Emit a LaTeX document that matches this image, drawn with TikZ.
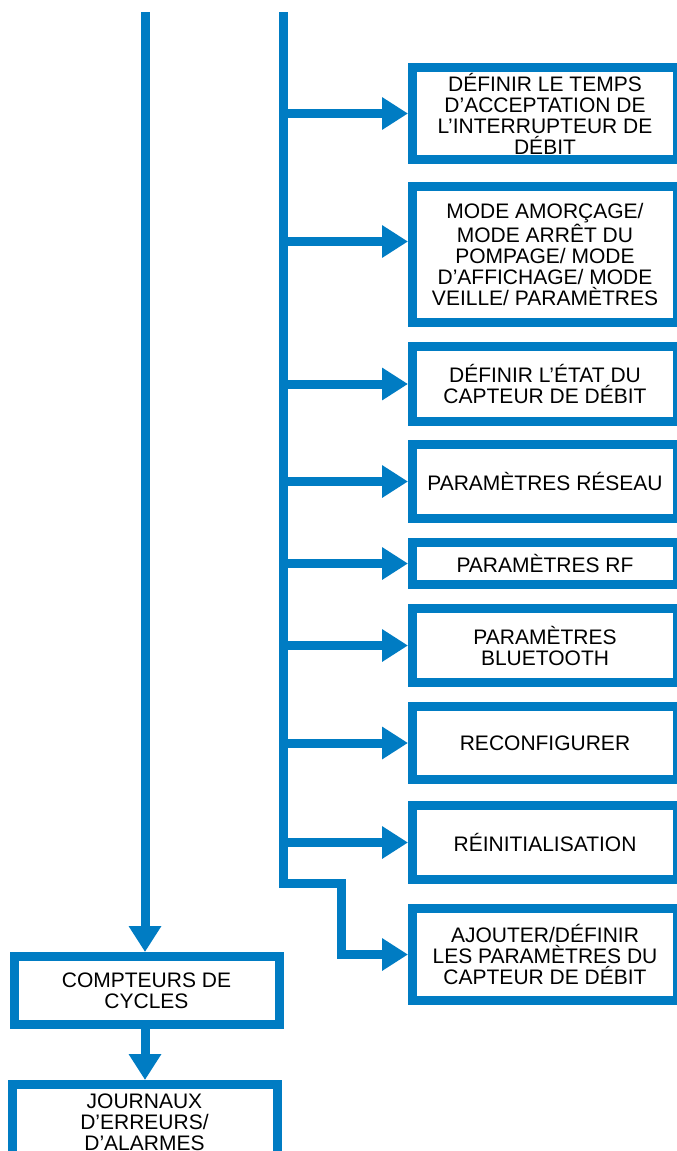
\documentclass[tikz,border=0pt]{standalone}
\usepackage{fontspec}
\setmainfont{Liberation Sans}
\usetikzlibrary{arrows.meta}
\definecolor{menublue}{RGB}{0,124,195}

\begin{document}
\begin{tikzpicture}[x=1pt, y=-1pt,
    every node/.style={font=\fontsize{21}{21}\selectfont},
    menubox/.style={draw=menublue, line width=9pt, minimum width=265pt,
      inner sep=0pt, align=center, text=black},
    arr/.style={draw=menublue, line width=9pt, line join=miter,
      -{Triangle[width=31pt, length=26pt]}}]
      \useasboundingbox (0,0) rectangle (677,1151);
      % Trunk tops
      \coordinate (ltop) at (145,12);
      \coordinate (rtop) at (283.5,12);
      \coordinate (bend) at (341,883);

      % Right column boxes
      \node[menubox, minimum height=92pt] (b1) at (545,113.5)
        {DÉFINIR LE TEMPS\\D’ACCEPTATION DE\\L’INTERRUPTEUR DE\\DÉBIT};
      \node[menubox, minimum height=136pt] (b2) at (545,254.5)
        {MODE AMORÇAGE/\\MODE ARRÊT DU\\POMPAGE/ MODE\\D’AFFICHAGE/ MODE\\VEILLE/ PARAMÈTRES};
      \node[menubox, minimum height=75pt] (b3) at (545,384)
        {DÉFINIR L’ÉTAT DU\\CAPTEUR DE DÉBIT};
      \node[menubox, minimum height=74pt] (b4) at (545,481.5) {PARAMÈTRES RÉSEAU};
      \node[menubox, minimum height=42pt] (b5) at (545,563.5) {PARAMÈTRES RF};
      \node[menubox, minimum height=74pt] (b6) at (545,645.5) {PARAMÈTRES\\BLUETOOTH};
      \node[menubox, minimum height=73pt] (b7) at (545,743) {RECONFIGURER};
      \node[menubox, minimum height=74pt] (b8) at (545,842.5) {RÉINITIALISATION};
      \node[menubox, minimum height=92pt] (b9) at (545,954.5)
        {AJOUTER/DÉFINIR\\LES PARAMÈTRES DU\\CAPTEUR DE DÉBIT};

      % Left column boxes
      \node[menubox, minimum height=68pt] (c1) at (146.5,990.5) {COMPTEURS DE\\CYCLES};
      \node[menubox, minimum height=75pt] (c2) at (144.5,1122)
        {JOURNAUX\\D’ERREURS/\\D’ALARMES};

      % Connectors
      \draw[arr] (ltop) -- (ltop |- c1.north);
      \draw[arr] (c1.south -| ltop) -- (c2.north -| ltop);
      \draw[arr] (rtop) |- (bend) |- (b9.west);
      \foreach \b in {b1,b3,b4,b5,b6,b7,b8}
        \draw[arr] (rtop |- \b.west) -- (\b.west);
      \draw[arr] ([yshift=13pt]rtop |- b2.west) -- ([yshift=13pt]b2.west);
    \end{tikzpicture}
\end{document}
